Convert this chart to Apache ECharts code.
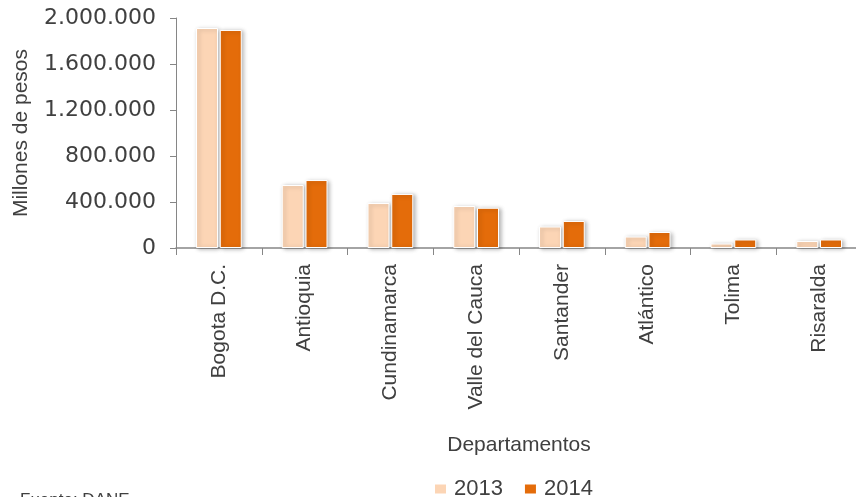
<!DOCTYPE html>
<html>
<head>
<meta charset="utf-8">
<script src="https://cdn.jsdelivr.net/npm/echarts@6/dist/echarts.min.js"></script>
<style>html,body{margin:0;padding:0;background:#fff}#c{width:856px;height:497px}</style>
</head>
<body>
<div id="c"></div>
<script>
const categories = ['Bogota D.C.', 'Antioquia', 'Cundinamarca', 'Valle del Cauca', 'Santander', 'Atlántico', 'Tolima', 'Risaralda'];
const series2013 = [1913000, 548000, 391000, 365000, 187000, 100000, 39000, 61000];
const series2014 = [1896000, 591000, 470000, 350000, 235000, 139000, 74000, 74000];
const yTicks = [0, 400000, 800000, 1200000, 1600000, 2000000];

const fmt = v => String(v).replace(/\B(?=(\d{3})+(?!\d))/g, '.');
const txt = '#404040';
const axisGray = '#868686';

const chart = echarts.init(document.getElementById('c'), null, {renderer: 'canvas'});
const barStyle = color => ({
  color: color,
  borderColor: '#ffffff',
  borderWidth: 1,
  shadowColor: 'rgba(0,0,0,0.28)',
  shadowBlur: 4,
  shadowOffsetX: 2,
  shadowOffsetY: 1
});
chart.setOption({
  animation: false,
  backgroundColor: '#ffffff',
  grid: {left: 176, top: 18, right: -6, bottom: 249, outerBoundsMode: 'none', containLabel: false},
  legend: {
    data: ['2013', '2014'],
    left: 428, top: 473,
    icon: 'rect', itemWidth: 13, itemHeight: 11, itemGap: 20,
    textStyle: {fontFamily: 'Liberation Sans', fontSize: 22, color: txt, padding: [0, 0, 0, 2]}
  },
  xAxis: {
    type: 'category',
    data: categories,
    name: 'Departamentos',
    nameLocation: 'middle',
    nameGap: 187,
    nameTextStyle: {fontFamily: 'Liberation Sans', fontSize: 21, color: txt},
    axisLine: {lineStyle: {color: axisGray, width: 1.5}},
    axisTick: {show: true, alignWithLabel: false, length: 7, lineStyle: {color: axisGray}},
    axisLabel: {rotate: 90, margin: 16, fontFamily: 'Liberation Sans', fontSize: 21, color: txt, interval: 0}
  },
  yAxis: {
    type: 'value',
    min: yTicks[0],
    max: yTicks[yTicks.length - 1],
    interval: yTicks[1] - yTicks[0],
    name: 'Millones de pesos',
    nameLocation: 'middle',
    nameGap: 144,
    nameRotate: 90,
    nameTextStyle: {fontFamily: 'Liberation Sans', fontSize: 21, color: txt},
    axisLine: {show: true, lineStyle: {color: axisGray, width: 1}},
    axisTick: {show: true, length: 6, lineStyle: {color: axisGray}},
    splitLine: {show: false},
    axisLabel: {margin: 20, fontFamily: 'DejaVu Sans', fontSize: 22, color: txt, formatter: v => fmt(v)}
  },
  series: [
    {name: '2013', type: 'bar', data: series2013, barWidth: 22, barGap: '8%', itemStyle: barStyle('#FCD5B5')},
    {name: '2014', type: 'bar', data: series2014, barWidth: 22, barGap: '8%', itemStyle: barStyle('#E46C0A')}
  ],
  graphic: [
    {type: 'text', left: 20, top: 492, style: {text: 'Fuente: DANE', fontFamily: 'Liberation Sans', fontSize: 17, fill: txt}}
  ]
});
</script>
</body>
</html>
